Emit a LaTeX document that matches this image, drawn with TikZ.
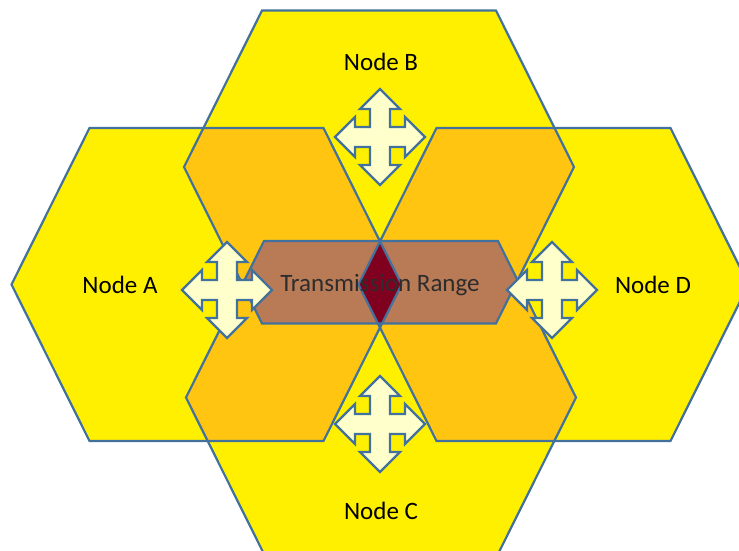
\documentclass[tikz,border=0pt]{standalone}
\usepackage{fontspec}
\setmainfont{Carlito}
\definecolor{hexyellow}{RGB}{255,240,0}
\definecolor{hexorange}{RGB}{255,197,16}
\definecolor{hexbrown}{RGB}{185,122,86}
\definecolor{hexcrimson}{RGB}{128,0,32}
\definecolor{arrowfill}{RGB}{255,255,204}
\definecolor{edgeblue}{RGB}{65,113,156}
\newcommand\hexat[1]{(#1) ++(-195,0) -- ++(78,-156.5) -- ++(234,0) -- ++(78,156.5) -- ++(-78,156.5) -- ++(-234,0) -- cycle}
\tikzset{
  hexedge/.style={draw=edgeblue, line width=2.2pt},
  qarrowstyle/.style={draw=edgeblue, fill=arrowfill, line width=2.2pt},
  quadarrow/.pic={
    \path[qarrowstyle] (0,-48) -- (20,-28) -- (10,-28) -- (10,-10) -- (25,-10) -- (25,-20) -- (45,0)
      -- (25,20) -- (25,10) -- (10,10) -- (10,28) -- (20,28) -- (0,48) -- (-20,28) -- (-10,28)
      -- (-10,10) -- (-25,10) -- (-25,20) -- (-45,0) -- (-25,-20) -- (-25,-10) -- (-10,-10)
      -- (-10,-28) -- (-20,-28) -- cycle;
  },
  lbl/.style={font=\fontsize{25}{30}\selectfont, text=black, inner sep=0pt}
}
\begin{document}
\begin{tikzpicture}[x=1pt,y=-1pt]
\useasboundingbox (0,0) rectangle (739,550);
\clip (0,0) rectangle (739,550);
\coordinate (hA) at (206.5,284.5);
\coordinate (hB) at (379,167);
\coordinate (hC) at (381,397.5);
\coordinate (hD) at (553.5,284.5);
% base hexagons
\fill[hexyellow] \hexat{hA};
\fill[hexyellow] \hexat{hB};
\fill[hexyellow] \hexat{hC};
\fill[hexyellow] \hexat{hD};
% overlaps
\begin{scope}
  \clip \hexat{hA};
  \fill[hexorange] \hexat{hB};
  \fill[hexorange] \hexat{hC};
\end{scope}
\begin{scope}
  \clip \hexat{hD};
  \fill[hexorange] \hexat{hB};
  \fill[hexorange] \hexat{hC};
\end{scope}
\begin{scope}
  \clip \hexat{hB};
  \fill[hexbrown] \hexat{hC};
\end{scope}
\begin{scope}
  \clip \hexat{hA};
  \fill[hexcrimson] \hexat{hD};
\end{scope}
% outlines
\path[hexedge] \hexat{hA};
\path[hexedge] \hexat{hB};
\path[hexedge] \hexat{hC};
\path[hexedge] \hexat{hD};
% arrows
\pic (qa) at (227,290) {quadarrow};
\pic (qb) at (380,137) {quadarrow};
\pic (qc) at (380,424) {quadarrow};
\pic (qd) at (552,290) {quadarrow};
% labels
\node[lbl] (na) at (120,285) {Node A};
\node[lbl] (nb) at (381,62) {Node B};
\node[lbl] (nc) at (381,511) {Node C};
\node[lbl] (nd) at (653,285) {Node D};
\node[lbl, text={rgb,255:red,45;green,45;blue,45}] (tr) at (380,285) {Transmission Range};
\end{tikzpicture}
\end{document}
